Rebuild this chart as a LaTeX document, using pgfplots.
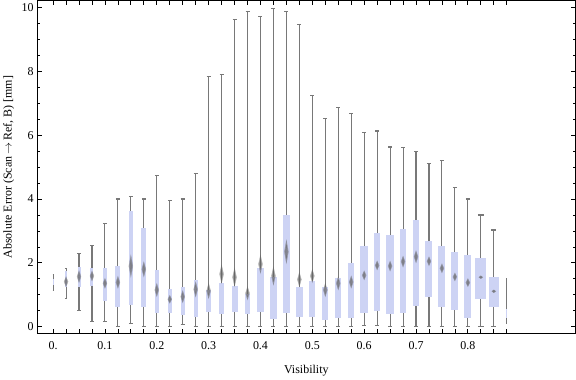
\documentclass[border=0pt]{standalone}
\usepackage{fontspec}
\setmainfont{Liberation Serif}
\usepackage{pgfplots}
\pgfplotsset{compat=1.18}
\usepgfplotslibrary{statistics}
\definecolor{boxblue}{RGB}{205,211,244}
\definecolor{whisk}{RGB}{120,120,120}
\definecolor{medgray}{RGB}{100,100,100}

\pgfplotsset{
  boxplot/dh/.initial=5,
  boxplot/draw/median/.code={%
    \pgfmathsetmacro\bwh{0.5*\pgfkeysvalueof{/pgfplots/boxplot/dh}}%
    \ifdim\bwh pt>0pt
    \path (boxplot box cs:\pgfplotsboxplotvalue{median},0.5) coordinate (bwm);
    \fill[medgray,opacity=0.4] ([yshift=\bwh bp]bwm) -- ([xshift=2.0bp]bwm) -- ([yshift=-\bwh bp]bwm) -- ([xshift=-2.0bp]bwm) -- cycle;
    \fill[medgray,opacity=0.5] ([yshift=0.65*\bwh bp]bwm) -- ([xshift=1.1bp]bwm) -- ([yshift=-0.65*\bwh bp]bwm) -- ([xshift=-1.1bp]bwm) -- cycle;
    \fi
  },
}
% x, lower whisker, lower quartile, mean (diamond), upper quartile, upper whisker, box width, cap width, diamond height
\newcommand{\bw}[9]{\addplot[boxplot/draw direction=y, boxplot/box extend=#7, boxplot/whisker extend=#8, boxplot/dh=#9,
  boxplot prepared={draw direction=y, draw position=#1, lower whisker=#2, lower quartile=#3, median=#4, upper quartile=#5, upper whisker=#6}] coordinates {};}

\begin{document}
\begin{tikzpicture}
\begin{axis}[
  scale only axis, width=538bp, height=333bp,
  xmin=-0.0309, xmax=1.0077, ymin=-0.22, ymax=10.22,
  xtick={0,0.025,0.05,0.075,0.1,0.125,0.15,0.175,0.2,0.225,0.25,0.275,0.3,0.325,0.35,0.375,0.4,0.425,0.45,0.475,0.5,0.525,0.55,0.575,0.6,0.625,0.65,0.675,0.7,0.725,0.75,0.775,0.8,0.825,0.85,0.875},
  xticklabels={0.,,,,0.1,,,,0.2,,,,0.3,,,,0.4,,,,0.5,,,,0.6,,,,0.7,,,,0.8,,,},
  ytick={0,2,4,6,8,10}, yticklabels={0,2,4,6,8,10},
  minor y tick num=3,
  major tick length=4.5bp, minor tick length=3bp,
  tick style={black, line width=0.8bp},
  axis line style={line width=0.9bp},
  tick label style={font=\fontsize{12}{14}\selectfont},
  label style={font=\fontsize{12}{14}\selectfont},
  xticklabel style={yshift=-4bp},
  xlabel={Visibility}, ylabel={Absolute Error (Scan$\,\to\,$Ref, B) [mm]},
  xlabel style={at={(axis description cs:0.5,-0.11)}, anchor=center},
  ylabel style={at={(axis description cs:-0.0525,0.5)}, anchor=center},
  boxplot/draw direction=y,
  boxplot/every box/.style={draw=none, fill=boxblue},
  boxplot/every whisker/.style={whisk, line width=1.1bp},
]
\bw{0.000}{1.13}{1.30}{1.42}{1.50}{1.63}{0.0019}{0.002}{0}
\bw{0.025}{0.89}{1.23}{1.41}{1.75}{1.82}{0.0039}{0.005}{10}
\bw{0.050}{0.52}{1.23}{1.57}{1.88}{2.28}{0.0058}{0.006}{12}
\bw{0.075}{0.17}{1.28}{1.59}{1.85}{2.53}{0.0058}{0.006}{10}
\bw{0.100}{0.15}{0.82}{1.36}{1.85}{3.22}{0.0077}{0.0077}{10}
\bw{0.125}{0.02}{0.61}{1.39}{1.90}{4.00}{0.0097}{0.0077}{12}
\bw{0.150}{0.09}{0.67}{1.90}{3.64}{4.07}{0.0083}{0.0077}{22}
\bw{0.175}{0.02}{0.61}{1.80}{3.10}{4.00}{0.0091}{0.0077}{15}
\bw{0.200}{0.00}{0.42}{1.15}{1.78}{4.73}{0.0077}{0.0077}{13}
\bw{0.225}{0.02}{0.44}{0.86}{1.19}{3.94}{0.0077}{0.0077}{8}
\bw{0.250}{0.06}{0.36}{0.94}{1.25}{4.00}{0.0077}{0.0077}{12}
\bw{0.275}{0.00}{0.29}{1.17}{1.47}{4.79}{0.0077}{0.0077}{15}
\bw{0.300}{0.00}{0.47}{1.12}{1.16}{7.83}{0.0097}{0.0077}{15}
\bw{0.325}{0.00}{0.41}{1.65}{1.38}{7.89}{0.0110}{0.0077}{18}
\bw{0.350}{0.00}{0.47}{1.55}{1.29}{9.61}{0.0116}{0.0077}{18}
\bw{0.375}{0.00}{0.41}{1.05}{1.03}{9.86}{0.0097}{0.0077}{13}
\bw{0.400}{0.00}{0.47}{1.96}{1.85}{9.71}{0.0122}{0.0077}{18}
\bw{0.425}{0.00}{0.25}{1.59}{1.57}{9.96}{0.0135}{0.0077}{18}
\bw{0.450}{0.00}{0.42}{2.35}{3.51}{9.86}{0.0135}{0.0077}{23}
\bw{0.475}{0.00}{0.29}{1.48}{1.25}{9.46}{0.0135}{0.0077}{14}
\bw{0.500}{0.00}{0.32}{1.59}{1.44}{7.23}{0.0116}{0.0077}{13}
\bw{0.525}{0.00}{0.20}{1.15}{1.25}{6.51}{0.0116}{0.0077}{13}
\bw{0.550}{0.00}{0.26}{1.36}{1.54}{6.86}{0.0116}{0.0077}{13}
\bw{0.575}{0.00}{0.26}{1.40}{2.00}{6.67}{0.0116}{0.0077}{12}
\bw{0.600}{0.03}{0.42}{1.61}{2.54}{6.09}{0.0149}{0.0077}{9}
\bw{0.625}{0.03}{0.48}{1.92}{2.92}{6.13}{0.0129}{0.0077}{9}
\bw{0.650}{0.00}{0.39}{1.90}{2.88}{5.63}{0.0149}{0.0077}{10}
\bw{0.675}{0.02}{0.42}{2.04}{3.07}{5.60}{0.0116}{0.0077}{11}
\bw{0.700}{0.02}{0.66}{2.19}{3.35}{5.48}{0.0122}{0.0077}{12}
\bw{0.725}{0.00}{0.94}{2.05}{2.70}{5.10}{0.0135}{0.0077}{9}
\bw{0.750}{0.00}{0.63}{1.83}{2.54}{5.22}{0.0135}{0.0077}{9}
\bw{0.775}{0.00}{0.51}{1.56}{2.35}{4.35}{0.0135}{0.0077}{8}
\bw{0.800}{0.00}{0.26}{1.38}{2.26}{4.00}{0.0135}{0.0077}{8}
\bw{0.825}{0.00}{0.86}{1.55}{2.16}{3.50}{0.0212}{0.0110}{3}
\bw{0.850}{0.00}{0.61}{1.11}{1.57}{3.03}{0.0193}{0.0100}{3}
\bw{0.875}{0.07}{0.26}{0.40}{0.54}{1.54}{0.0019}{0}{0}
\end{axis}
\end{tikzpicture}
\end{document}
